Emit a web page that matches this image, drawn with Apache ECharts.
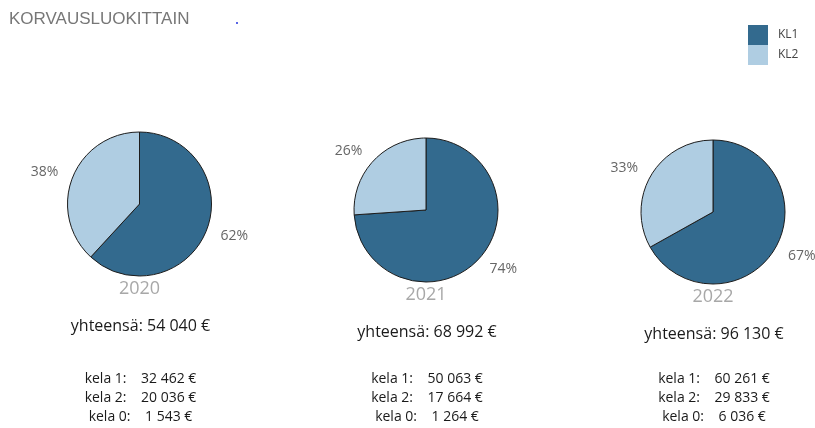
<!DOCTYPE html>
<html>
<head>
<meta charset="utf-8">
<script src="https://cdn.jsdelivr.net/npm/echarts@6/dist/echarts.min.js"></script>
<style>
  html, body { margin: 0; padding: 0; background: #fff; }
  #chart { width: 815px; height: 428px; }
</style>
</head>
<body>
<div id="chart"></div>
<script>
// data
const years = ["2020", "2021", "2022"];
const classNames = ["KL1", "KL2"];
const kela1 = [32462, 50063, 60261];
const kela2 = [20036, 17664, 29833];
const kela0 = [1543, 1264, 6036];
const totals = [54040, 68992, 96130];

// layout of the three pies
const pieCenters = [[139.5, 204], [426, 210], [713, 212]];
const colors = ["#336a8e", "#afcde2"];

function fmt(v) {
  return String(v).replace(/\B(?=(\d{3})+(?!\d))/g, " ") + " €";
}

const chart = echarts.init(document.getElementById("chart"));

const series = years.map((y, i) => ({
  name: y,
  type: "pie",
  center: pieCenters[i],
  radius: 72,
  startAngle: 90,
  clockwise: true,
  avoidLabelOverlap: false,
  animation: false,
  silent: true,
  itemStyle: { borderColor: "#1c1c1c", borderWidth: 1 },
  label: {
    show: true,
    position: "outside",
    color: "#666",
    fontSize: 14,
    fontFamily: "Open Sans",
    distanceToLabelLine: 0,
    formatter: (p) => Math.round(p.percent) + "%",
  },
  labelLine: { show: false, length: 15, length2: 0 },
  data: [
    { name: classNames[0], value: kela1[i], itemStyle: { color: colors[0] } },
    { name: classNames[1], value: kela2[i], itemStyle: { color: colors[1] } },
  ],
}));

const texts = [];
years.forEach((y, i) => {
  const cx = pieCenters[i][0];
  texts.push({
    type: "text",
    x: cx,
    y: pieCenters[i][1] + 85,
    style: {
      text: y,
      align: "center",
      verticalAlign: "middle",
      fill: "#a8a8a8",
      fontSize: 18,
      fontFamily: "Open Sans",
    },
  });
  texts.push({
    type: "text",
    x: cx + 1,
    y: pieCenters[i][1] + 122,
    style: {
      text: "yhteensä: " + fmt(totals[i]),
      align: "center",
      verticalAlign: "middle",
      fill: "#1a1a1a",
      fontSize: 16,
      fontFamily: "Open Sans",
    },
  });
  texts.push({
    type: "text",
    x: cx + 1,
    y: 398,
    style: {
      text: [
        "kela 1:    " + fmt(kela1[i]),
        "kela 2:    " + fmt(kela2[i]),
        "kela 0:    " + fmt(kela0[i]),
      ].join("\n"),
      align: "center",
      verticalAlign: "middle",
      lineHeight: 19,
      fill: "#1a1a1a",
      fontSize: 14,
      fontFamily: "Open Sans",
    },
  });
});

chart.setOption({
  animation: false,
  title: {
    text: "KORVAUSLUOKITTAIN",
    left: 9,
    top: 11,
    padding: 0,
    textStyle: {
      color: "#777",
      fontSize: 17,
      fontWeight: "normal",
      fontFamily: "Liberation Sans",
    },
  },
  legend: {
    orient: "vertical",
    left: 748,
    top: 25,
    padding: 0,
    itemWidth: 20,
    itemHeight: 20,
    itemGap: 0,
    icon: "rect",
    selectedMode: false,
    data: classNames,
    itemStyle: { borderWidth: 0 },
    textStyle: { color: "#444", fontSize: 12, fontFamily: "Open Sans", padding: [0, 0, 0, 5] },
  },
  graphic: texts.concat([
    { type: "circle", shape: { cx: 237, cy: 23, r: 1 }, style: { fill: "#2233dd" } },
  ]),
  series: series,
});
</script>
</body>
</html>
